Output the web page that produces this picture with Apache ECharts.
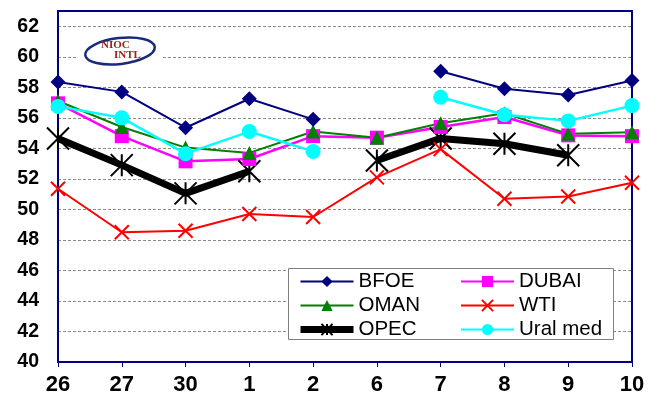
<!DOCTYPE html>
<html>
<head>
<meta charset="utf-8">
<script src="https://cdn.jsdelivr.net/npm/echarts@6/dist/echarts.min.js"></script>
<style>html,body{margin:0;padding:0;background:#fff}#c{width:657px;height:403px}</style>
</head>
<body>
<div id="c"></div>
<script>
const categories = ['26','27','30','1','2','6','7','8','9','10'];
const bfoe   = [58.35, 57.7, 55.35, 57.25, 55.9, null, 59.05, 57.9, 57.5, 58.45];
const dubai  = [56.95, 54.8, 53.15, 53.3, 54.8, 54.7, 55.4, 56.05, 54.85, 54.8];
const oman   = [57.1, 55.4, 54.05, 53.7, 55.1, 54.7, 55.65, 56.3, 54.95, 55.05];
const wti    = [51.35, 48.5, 48.6, 49.7, 49.5, 52.1, 53.95, 50.7, 50.85, 51.75];
const opec   = [54.65, 52.9, 51.05, 52.5, null, 53.2, 54.65, 54.3, 53.55, null];
const ural   = [56.75, 56.0, 53.65, 55.1, 53.8, null, 57.35, 56.2, 55.8, 56.8];
const yTicks = {min: 40, max: 63, interval: 2};

const chart = echarts.init(document.getElementById('c'));
const xPath = 'path://M0,0L20,20M20,0L0,20';
const starPath = 'path://M0,0L20,20M20,0L0,20M10,0L10,20';
function line(name, data, color, symbol, size, width, extra) {
  return Object.assign({
    name, type: 'line', data, symbol, symbolSize: size, connectNulls: false,
    lineStyle: {color, width}, itemStyle: {color}, emphasis: {disabled: true}
  }, extra || {});
}
const splitColors = [];
for (let v = yTicks.min; v <= yTicks.max; v += yTicks.interval) splitColors.push(v === yTicks.min ? 'rgba(0,0,0,0)' : '#8c8c8c');
splitColors.push('rgba(0,0,0,0)');

const legendText = {fontFamily: 'Liberation Sans', fontSize: 20.5, lineHeight: 20, color: '#000'};
chart.setOption({
  animation: false,
  backgroundColor: '#fff',
  grid: {left: 58, right: 25, top: 11, bottom: 41, show: true, borderColor: '#000080', borderWidth: 2, backgroundColor: 'transparent'},
  xAxis: {
    type: 'category', data: categories, boundaryGap: false,
    axisLine: {lineStyle: {color: '#000080', width: 2}},
    axisTick: {show: true, length: 5, lineStyle: {color: '#000080', width: 1}},
    axisLabel: {color: '#000', fontFamily: 'Liberation Sans', fontWeight: 'bold', fontSize: 22, margin: 12},
    splitLine: {show: false}
  },
  yAxis: {
    type: 'value', min: yTicks.min, max: yTicks.max, interval: yTicks.interval,
    axisLine: {show: true, lineStyle: {color: '#000080', width: 2}},
    axisTick: {show: false},
    axisLabel: {color: '#000', fontFamily: 'Liberation Sans', fontWeight: 'bold', fontSize: 19.5, margin: 19, showMaxLabel: false},
    splitLine: {show: true, lineStyle: {color: splitColors, type: [3, 2], width: 1}}
  },
  legend: [
    {orient: 'vertical', left: 297, top: 271, z: 20, itemWidth: 53, itemHeight: 14, itemGap: 3,
     data: ['BFOE', 'OMAN', {name: 'OPEC', lineStyle: {width: 7}}], textStyle: legendText, padding: 0},
    {orient: 'vertical', left: 460, top: 271, z: 20, itemWidth: 53, itemHeight: 14, itemGap: 3,
     data: ['DUBAI', 'WTI', 'Ural med'], textStyle: legendText, padding: 0}
  ],
  graphic: [
    {type: 'rect', left: 288, top: 268, z: 5, shape: {width: 325, height: 71}, style: {fill: '#fff', stroke: '#808080', lineWidth: 1}},
    {type: 'rect', left: 78, top: 31, z: 5, shape: {width: 84, height: 42}, style: {fill: '#fff'}},
    {type: 'ellipse', z: 6, x: 120, y: 51, rotation: 0.12, shape: {cx: 0, cy: 0, rx: 35, ry: 13}, style: {fill: 'none', stroke: '#1a2a7a', lineWidth: 2.5}},
    {type: 'text', z: 7, x: 101, y: 40, style: {text: 'NIOC', fill: '#a02020', font: 'bold 11px "Liberation Serif"'}},
    {type: 'text', z: 7, x: 114, y: 50, style: {text: 'INTL', fill: '#a02020', font: 'bold 11px "Liberation Serif"'}}
  ],
  series: [
    line('OPEC', opec, '#000', starPath, 22, 7, {itemStyle: {color: '#000', borderColor: '#000', borderWidth: 2}}),
    line('WTI', wti, '#ff0000', xPath, 14, 2, {itemStyle: {color: '#ff0000', borderColor: '#ff0000', borderWidth: 2}}),
    line('DUBAI', dubai, '#ff00ff', 'rect', 14, 2.5),
    line('OMAN', oman, '#008000', 'triangle', 14, 2),
    line('Ural med', ural, '#00ffff', 'circle', 15, 2.5),
    line('BFOE', bfoe, '#000080', 'diamond', 15, 2)
  ]
});
</script>
</body>
</html>
